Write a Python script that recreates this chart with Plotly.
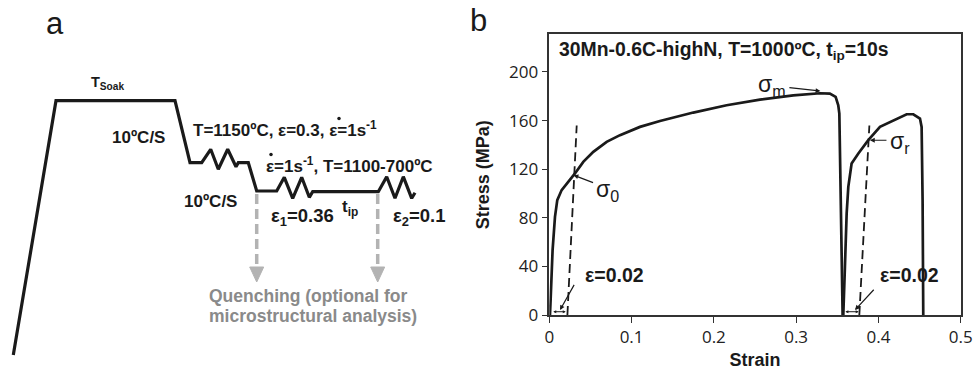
import plotly.graph_objects as go

# ---------------- Panel a : schematic thermomechanical schedule (schematic units) ----------------
profile_x = [13.3, 56, 175, 190, 201.7, 210.7, 218.3, 227.7, 236, 238.3, 248.3, 256.7, 276.7,
             284.3, 292.7, 301.7, 309.3, 312.7, 378.3, 386.7, 395, 403.3, 411.7, 415]
profile_y = [355, 100.7, 100.7, 162.7, 162.7, 149.3, 169.3, 149.3, 166.7, 162.7, 162.7, 191, 191,
             177.3, 198.3, 177.3, 197.3, 191.7, 191.7, 176.7, 198.3, 176.7, 198.3, 192.7]
quench_x = [256.7, 377.7]

# ---------------- Panel b : stress-strain data ----------------
strain_1 = [0.0, 0.0008, 0.0016, 0.004, 0.0069, 0.0097, 0.015, 0.0231, 0.0312, 0.0413, 0.0535,
            0.0697, 0.0859, 0.1102, 0.1345, 0.175, 0.2155, 0.256, 0.2965, 0.329, 0.341, 0.348,
            0.3512, 0.3525, 0.3565]
stress_1 = [0, 0, 12.3, 53.4, 80.8, 94.5, 102.8, 109.6, 116.5, 126, 134.3, 142.5, 148, 154.8,
            159.7, 166.6, 172.6, 177.3, 180.8, 182.5, 182.2, 179.5, 172.6, 165.8, 0]
strain_2 = [0.3565, 0.3573, 0.3593, 0.3614, 0.3634, 0.3674, 0.3756, 0.3877, 0.4019, 0.418,
            0.4343, 0.4424, 0.4505, 0.4525, 0.4537, 0.4545]
stress_2 = [0, 0, 39.7, 83.6, 105.5, 124.7, 132.9, 143.9, 154.8, 160.3, 165.2, 165.2, 161.7,
            154.8, 94.5, 0]
offset1_strain = [0.022, 0.0333]
offset1_stress = [0, 156]
offset2_strain = [0.3768, 0.389]
offset2_stress = [0, 156]

x_ticks = [0, 0.1, 0.2, 0.3, 0.4, 0.5]
x_ticktext = ["0", "0.1", "0.2", "0.3", "0.4", "0.5"]
y_ticks = [0, 40, 80, 120, 160, 200]

BOLD = "Liberation Sans, Arial, sans-serif"
TICK = "Open Sans, Noto Sans, sans-serif"
INK = "#1a1a1a"
GREY = "#b3b3b3"

W, H = 973, 370
fig = go.Figure()

# ---- panel a traces ----
fig.add_trace(go.Scatter(x=profile_x, y=profile_y, mode="lines", xaxis="x2", yaxis="y2",
                         line=dict(color=INK, width=3.2), hoverinfo="skip", showlegend=False))
for qx in quench_x:
    fig.add_trace(go.Scatter(x=[qx, qx], y=[194, 267], mode="lines", xaxis="x2", yaxis="y2",
                             line=dict(color=GREY, width=3.5, dash="10px,5px"),
                             hoverinfo="skip", showlegend=False))
    fig.add_trace(go.Scatter(x=[qx - 7, qx + 7, qx, qx - 7], y=[267, 267, 282, 267], mode="lines",
                             fill="toself", fillcolor=GREY, xaxis="x2", yaxis="y2",
                             line=dict(color=GREY, width=1), hoverinfo="skip", showlegend=False))
# strain-rate dots (the dot of the epsilon-dot symbol)
fig.add_trace(go.Scatter(x=[339, 271], y=[118.5, 154.5], mode="markers", xaxis="x2", yaxis="y2",
                         marker=dict(color=INK, size=3.5), hoverinfo="skip", showlegend=False))

# ---- panel b traces ----
for sx, sy in [(strain_1, stress_1), (strain_2, stress_2)]:
    fig.add_trace(go.Scatter(x=sx, y=sy, mode="lines", line=dict(color=INK, width=2.7),
                             showlegend=False))
for sx, sy in [(offset1_strain, offset1_stress), (offset2_strain, offset2_stress)]:
    fig.add_trace(go.Scatter(x=sx, y=sy, mode="lines",
                             line=dict(color=INK, width=1.8, dash="9px,5px"), showlegend=False))

ann = []

def txt2(x, y, s, size=17, color=INK, xanchor="left", font=BOLD):
    ann.append(dict(x=x, y=y, xref="x2", yref="y2", text=s, showarrow=False, xanchor=xanchor,
                    yanchor="middle", align="left", font=dict(family=font, size=size, color=color)))

def txt(x, y, s, size=17, xanchor="left", font=BOLD):
    ann.append(dict(x=x, y=y, xref="x", yref="y", text=s, showarrow=False, xanchor=xanchor,
                    yanchor="middle", font=dict(family=font, size=size, color=INK)))

def arrow(x0, y0, x1, y1, side="end", size=0.8, width=1.2):
    ann.append(dict(x=x1, y=y1, ax=x0, ay=y0, xref="x", yref="y", axref="x", ayref="y",
                    text="", showarrow=True, arrowhead=2, arrowside=side, arrowsize=size,
                    arrowwidth=width, arrowcolor=INK))

# panel labels
ann.append(dict(x=55, y=23, xref="x2", yref="y2", text="a", showarrow=False,
                font=dict(family=BOLD, size=31, color=INK)))
ann.append(dict(x=478, y=20, xref="x2", yref="y2", text="b", showarrow=False,
                font=dict(family=BOLD, size=31, color=INK)))

# panel a texts
txt2(89, 83, "<b>T<sub>Soak</sub></b>", size=14.5)
txt2(110, 137, "<b>10ºC/S</b>")
txt2(191, 129, "<b>T=1150ºC, ε=0.3, ε=1s<sup>-1</sup></b>")
txt2(264, 165, "<b>ε=1s<sup>-1</sup>, T=1100-700ºC</b>")
txt2(182, 201, "<b>10ºC/S</b>")
txt2(269, 217, "<b>ε<sub>1</sub>=0.36</b>", size=18.5)
txt2(340, 208, "<b>t<sub>ip</sub></b>", size=17)
txt2(391, 217, "<b>ε<sub>2</sub>=0.1</b>", size=18.5)
txt2(207, 296, "<b>Quenching (optional for</b>", size=17.5, color="#8a8a8a")
txt2(207, 316, "<b>microstructural analysis)</b>", size=17.5, color="#8a8a8a")

# panel b texts
txt(0.0095, 218, "<b>30Mn-0.6C-highN, T=1000ºC, t<sub>ip</sub>=10s</b>", size=19.4)
txt(0.2515, 189, "σ<sub>m</sub>", size=23, font="Liberation Sans")
arrow(0.29, 187.2, 0.3295, 184.3)
txt(0.0545, 102.5, "σ<sub>0</sub>", size=23, font="Liberation Sans")
arrow(0.055, 108.5, 0.0295, 115.1)
txt(0.412, 142, "σ<sub>r</sub>", size=23, font="Liberation Sans")
arrow(0.4116, 143.8, 0.3897, 143.8)
txt(0.041, 33, "<b>ε=0.02</b>", size=19.5)
txt(0.4, 33, "<b>ε=0.02</b>", size=19.5)
arrow(0.0312, 26, 0.013, 4.1)
arrow(0.396, 22, 0.3715, 4.1)
arrow(0.003, 2.7, 0.02, 2.7, side="end+start", size=0.6, width=1)
arrow(0.358, 2.7, 0.376, 2.7, side="end+start", size=0.6, width=1)

fig.update_layout(annotations=ann)

fig.update_layout(
    width=W, height=H, margin=dict(l=0, r=0, t=0, b=0),
    paper_bgcolor="white", plot_bgcolor="rgba(0,0,0,0)", showlegend=False,
    xaxis=dict(domain=[549.3 / W, 960.7 / W], range=[0, 0.5], tickvals=x_ticks,
               ticktext=x_ticktext, ticks="outside", ticklen=6, tickwidth=1.2, tickcolor="#333",
               showline=True, linecolor="#333", linewidth=1.5, mirror=True, showgrid=False,
               zeroline=False, tickfont=dict(family=TICK, size=17, color="#222"),
               title=dict(text="<b>Strain</b>", font=dict(family=BOLD, size=18, color=INK),
                          standoff=13), automargin=False),
    yaxis=dict(domain=[55 / H, 335.7 / H], range=[0, 231], tickvals=y_ticks, ticks="outside",
               ticklen=6, tickwidth=1.2, tickcolor="#333", showline=True, linecolor="#333",
               linewidth=1.5, mirror=True, showgrid=False, zeroline=False,
               tickfont=dict(family=TICK, size=17, color="#222"),
               title=dict(text="<b>Stress (MPa)</b>", font=dict(family=BOLD, size=18, color=INK),
                          standoff=15), automargin=False),
    xaxis2=dict(domain=[0, 1], range=[0, W], visible=False, anchor="y2"),
    yaxis2=dict(domain=[0, 1], range=[H, 0], visible=False, anchor="x2"),
)

fig.write_html("out.html", config={"displayModeBar": False},
               post_script="document.body.style.margin='0';document.body.style.overflow='hidden';")
